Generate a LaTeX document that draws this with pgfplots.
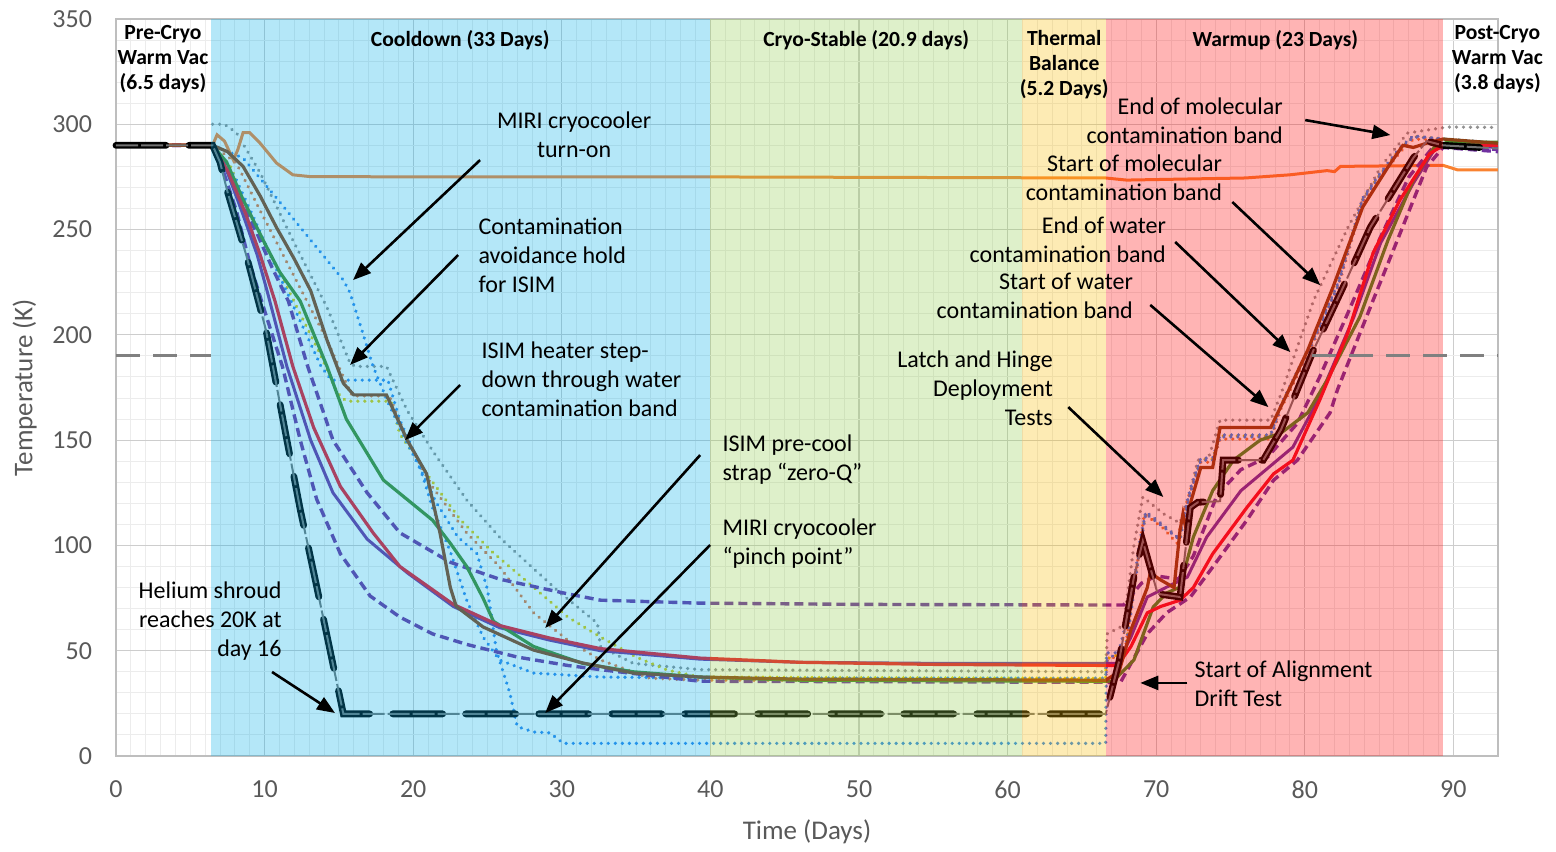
\documentclass[border=0pt]{standalone}
\usepackage{fontspec}
\setmainfont{Carlito}
\usepackage{pgfplots}
\pgfplotsset{compat=1.18}
\usetikzlibrary{arrows.meta}
\definecolor{corange}{RGB}{249,130,49}
\definecolor{cpurple}{RGB}{112,48,160}
\definecolor{cred}{RGB}{240,20,40}
\definecolor{cgreen}{RGB}{70,140,40}
\definecolor{cbrown}{RGB}{140,65,20}
\definecolor{cblue}{RGB}{50,135,235}
\definecolor{cgrayd}{RGB}{145,145,145}
\definecolor{corangedot}{RGB}{230,120,60}
\definecolor{cyellowdot}{RGB}{225,205,0}
\definecolor{bandcyan}{RGB}{5,175,232}
\definecolor{bandgreen}{RGB}{145,205,78}
\definecolor{bandyellow}{RGB}{248,188,5}
\definecolor{bandred}{RGB}{255,5,5}
\definecolor{gridmaj}{RGB}{205,205,205}
\definecolor{gridmin}{RGB}{236,236,236}
\definecolor{axisgray}{RGB}{190,190,190}
\definecolor{labgray}{RGB}{89,89,89}
\tikzset{
  dotl/.style={line width=1.8pt, dash pattern=on 0.01pt off 3.5pt, line cap=round},
  dashl/.style={line width=1.7pt, dash pattern=on 4.5pt off 2.5pt},
  ann/.style={font=\fontsize{12}{14.5}\selectfont, inner sep=0pt, text=black},
  ttl/.style={font=\bfseries\fontsize{10.8}{12.5}\selectfont, inner sep=0pt, align=center, text=black},
  arr/.style={line width=1.3pt, -{Triangle[length=9pt,width=7pt]}}
}
\begin{document}
\begin{tikzpicture}
\path[use as bounding box] (-58pt,-47.5pt) rectangle (720pt,378pt);
\begin{axis}[
  at={(0,0)}, anchor=south west, scale only axis,
  width=691pt, height=368.5pt,
  xmin=0, xmax=93, ymin=0, ymax=350,
  xtick={0,10,...,90}, ytick={0,50,...,350},
  minor x tick num=9, minor y tick num=4,
  grid=both,
  major grid style={draw=gridmaj, line width=0.6pt},
  minor grid style={draw=gridmin, line width=0.5pt},
  axis line style={draw=axisgray, line width=0.9pt},
  tick style={draw=none},
  /pgf/number format/assume math mode=true,
  ticklabel style={font=\fontsize{13}{15}\selectfont, text=labgray},
  xticklabel style={yshift=-9pt},
  yticklabel style={xshift=-8.5pt},
  xlabel={Time (Days)}, ylabel={Temperature (K)},
  label style={font=\fontsize{13.5}{16}\selectfont, text=labgray},
  x label style={at={(axis description cs:0.5,-0.103)}, anchor=center},
  y label style={at={(axis description cs:-0.066,0.5)}, anchor=center},
  clip=false,
]
% ---- dotted series ----
\addplot[cgrayd, dotl] coordinates {(6.5,300)(7.3,300)(8.1,296)(9.7,277)(11.9,245)(14.2,213)(15.75,186.6)(16.1,185)(18.2,185)(19.6,164)(21.3,145)(23.6,121.6)(25.8,104)(26.7,98)(29.9,77.4)(32.4,63)(32.6,52)(34.8,44)(39.3,41)(66.6,40)(66.7,58)(67.8,62)(68.5,100)(69.1,123)(70.5,115)(71.6,110.6)(72.3,126)(72.8,140.5)(73.5,141)(74.3,159.5)(77.7,159.5)(78.4,172)(80.6,216.5)(82.9,251)(85.1,279.7)(86.9,295.8)(89.6,298.7)(93,298.5)};
\addplot[cyellowdot, dotl] coordinates {(6.5,290)(7.7,280)(9.2,254.5)(11.5,222.7)(13.7,191.4)(14.9,172.4)(15.5,168.5)(18.5,168.5)(19.1,153)(20.9,134)(23.2,112)(25.4,96.4)(28.1,80.2)(30.4,66)(32.6,56.5)(35,47)(37.1,40.8)(39.3,37.5)(66.6,36.8)(66.65,46)(67.9,49.5)(68.3,69)(68.9,100)(69.3,115.5)(70.5,109)(71.6,103)(71.8,111)(72.3,126)(73,141)(73.8,141)(74.3,152)(77.7,152)(78.4,166.5)(80.6,198)(82.2,223.2)(83.9,264.5)(85.1,276.5)(86.4,288.2)(87.3,294.2)(89.3,293)(93,291)};
\addplot[corangedot, dotl] coordinates {(6.5,290)(8.1,281.6)(9.7,259)(11.9,229)(14.2,197.5)(15.3,180)(15.9,171)(18.4,171)(19.6,150)(21.3,127.7)(23.6,105.9)(25.8,90)(28.1,68)(30.4,55)(32.6,45.6)(35.9,37)(39.3,36)(66.6,35.8)(66.65,45)(67.9,49.5)(68.3,70)(68.9,100)(69.2,115)(70.5,108)(71.4,101)(71.7,112)(72.3,126)(73,139.5)(73.8,139.5)(74.3,150.5)(77.7,150.5)(78.4,165)(80.6,196.5)(82.2,221.7)(83.9,263)(85.1,275)(86.4,286.7)(87.3,293)(89.3,292.5)(93,290.5)};
\addplot[cblue, dotl] coordinates {(6.5,290)(8,275)(9.5,252)(11,228)(12.5,205)(13.8,185)(14.5,178.5)(18.3,178.5)(19.1,159.5)(20.3,140.5)(21.3,118)(22.5,97)(23.6,74)(24.7,56.5)(25.8,45.6)(28.1,39.4)(32.6,37.5)(40,37)(66.6,37)(66.65,45)(67.5,50)(68.3,72)(68.9,102)(69.3,116)(70.5,109.5)(71.5,103.5)(71.9,115)(72.3,127)(73,141.5)(73.8,141.5)(74.3,152.5)(77.7,152.5)(78.4,167)(80.6,198.5)(82.2,224)(83.9,265)(85.1,277)(86.4,289)(87.3,294.5)(89.3,293)(93,291)};
\addplot[cblue, dotl] coordinates {(6.5,290)(8.55,284)(10.8,265)(13.1,245)(15.3,226)(15.75,220)(16.6,201)(17.3,185)(18.3,168)(19.5,150)(20.5,136)(21.5,121)(23,104)(24.3,96)(25,79)(25.6,50)(26.5,30)(27,14)(28.1,11.4)(29.2,11)(30.1,6)(66.6,6)(66.65,49)(67.9,49)(68.3,68)(68.9,99)(69.3,115)(70.5,108.7)(71.6,102.6)(71.8,110)(72.3,125)(73,140.5)(73.8,140.5)(74.3,151.5)(77.7,151.5)(78.4,166)(80.6,197.5)(82.2,222.7)(83.9,264)(85.1,276)(86.4,287.7)(87.3,294)(89.3,293)(93,291)};
% ---- MIRI / orange ----
\addplot[corange, line width=1.5pt] coordinates {(0,290)(6.5,290)(6.8,295)(7.3,292)(7.9,283)(8.2,288)(8.55,296)(9,296)(9.7,291)(10.8,281.6)(11.9,276)(13,275.2)(20,275)(40,275)(66.6,274.5)(68,273.5)(72,274)(76,274.5)(79,276)(81.5,278)(82,277.5)(82.4,280)(89.3,280.5)(90.3,278.3)(93,278.3)};
% ---- purple dashed ----
\addplot[cpurple, dashl] coordinates {(0,290)(6.5,290)(7.5,278)(8.5,262)(9.5,248)(10.5,232)(11.6,216)(12.9,185)(14.6,150)(16.9,125)(19.1,106)(22.5,92)(25.8,84)(30.4,77)(32.6,74)(39.3,72.6)(50,72)(66.6,71.7)(67.8,71.7)(69,82)(70,85.5)(71.5,84)(72.5,95)(74.1,124)(75.7,136)(77.5,142)(79.5,158)(81,180)(83,212)(85,245)(87,275)(88.5,288)(89.3,290)(93,288)};
\addplot[cpurple, dashl] coordinates {(0,290)(6.5,290)(7.2,278)(8.1,259)(9,234)(10.2,207)(11.2,185)(12.4,150)(13.5,122)(15.1,96)(17.1,76)(19.1,66)(21.3,58)(23.6,53)(27,47)(30.4,43)(32.6,41)(39.3,35.5)(66.6,35)(67.6,35)(69.4,58)(70.7,68)(72.3,75.5)(73.8,89.7)(76.1,112)(77.9,131)(79.5,140.5)(81.7,163)(82.2,174)(84.6,216.5)(86.4,248)(88.2,279.7)(89.3,289)(93,287)};
% ---- purple solid ----
\addplot[cpurple, line width=1.5pt] coordinates {(0,290)(6.5,290)(7.5,277)(8.5,258)(9.5,238)(10.2,220)(11.5,185)(13.1,150)(14.6,125)(16.9,103)(19.6,87)(22.7,71)(25.8,61)(29.2,55)(32.6,50)(39.3,46)(46,44.5)(55,44)(66.6,44)(67.4,44)(68.3,56.5)(69.4,75.5)(70.7,80.2)(72.1,85)(73.4,104)(75.7,126)(77.9,139)(79.2,146.7)(81,170.5)(83.3,208.5)(85.1,243.6)(87.3,272)(88.7,287.7)(89.5,290)(93,289)};
% ---- green ----
\addplot[cgreen, line width=1.6pt] coordinates {(0,290)(6.5,290)(7.45,282)(8.5,265)(9.9,245)(11,230)(12.4,216)(14.2,185)(15.5,160)(18,131)(21.3,112)(22.5,101)(23.6,90)(24.7,75)(25.4,64)(28.1,52)(31.4,44)(34.8,40)(39.3,37.5)(46,36)(66.6,35.5)(67.1,35.5)(68.5,45.6)(69.8,70.8)(70.7,77.4)(71.6,80.2)(72.5,104)(73.8,126)(75.2,140.5)(77,150)(78.4,153.4)(80.2,163)(81.5,178.5)(83.7,208.5)(85.6,245)(87.3,273.5)(88.7,289)(89.6,291.5)(93,291.5)};
% ---- red ----
\addplot[cred, line width=1.6pt] coordinates {(0,290)(6.5,290)(7.5,278)(8.7,258)(9.7,238)(10.7,216)(11.9,185)(13.3,156)(15.1,128)(17.3,106)(19.1,90)(21.3,79)(22.7,72)(25.8,62)(29.2,56)(32.6,51)(39.3,46.5)(46,44.5)(55,43.5)(66.6,43)(67.4,43)(68.3,52)(69.4,68)(70.3,71)(71.6,74)(72.5,80)(73.8,96)(76.1,118)(77.9,134)(79.2,140.5)(81,169)(82.9,201)(84.6,239)(86.4,264)(88.4,286)(89.3,290)(93,290)};
% ---- brown (ISIM) ----
\addplot[cbrown, line width=1.6pt] coordinates {(0,290)(6.5,290)(7.5,287)(8.55,280)(9.7,266)(10.8,251)(12,236)(13.1,221)(14.2,197.5)(15.3,177)(16,171.5)(18.2,171.5)(19.6,150)(20.9,134)(21.8,106)(22.5,80)(22.9,71)(24.7,61.3)(28.1,50.3)(31.4,44.2)(34.8,39.4)(39.3,37.5)(46,36.5)(66.6,36)(67.5,40)(68.3,60)(69.4,80)(69.6,87)(70.3,83.6)(71.2,80)(71.6,107)(71.8,115)(72,108)(72.3,120)(73,137)(73.8,137)(74.3,156)(77.7,156)(78.6,169)(80.2,192.8)(81.9,222.7)(83.9,260.7)(85.6,279.7)(86.6,290)(87.3,289)(88.2,291)(89.3,293)(93,291)};
% ---- helium shroud ----
\addplot[black, line width=3.4pt, dash pattern=on 25pt off 11.5pt, line cap=round] coordinates {(0,290)(6.5,290)(7,282)(7.5,268)(8.8,237)(10.1,202)(11.5,150)(12.4,117)(13.4,84)(15.3,20)(66.6,20)(67.5,45)(68.5,85)(69.1,102)(70.1,77)(71.6,75.5)(72.3,118)(72.8,120.5)(74.3,121)(74.5,140.5)(77.2,140.5)(78.4,155)(80.6,193)(82.6,223)(84.4,251)(87.3,284)(88.2,292)(89.3,290)(93,288.5)};
\addplot[black!55, line width=1.0pt, dash pattern=on 11pt off 1.5pt] coordinates {(0,290)(6.5,290)(7,282)(7.5,268)(8.8,237)(10.1,202)(11.5,150)(12.4,117)(13.4,84)(15.3,20)(66.6,20)(67.5,45)(68.5,85)(69.1,102)(70.1,77)(71.6,75.5)(72.3,118)(72.8,120.5)(74.3,121)(74.5,140.5)(77.2,140.5)(78.4,155)(80.6,193)(82.6,223)(84.4,251)(87.3,284)(88.2,292)(89.3,290)(93,288.5)};
% ---- phase bands (translucent overlay) ----
\addplot[draw=none, fill=bandcyan, fill opacity=0.3] coordinates {(6.4,350)(40,350)} \closedcycle;
\addplot[draw=none, fill=bandgreen, fill opacity=0.3] coordinates {(40,350)(61,350)} \closedcycle;
\addplot[draw=none, fill=bandyellow, fill opacity=0.3] coordinates {(61,350)(66.6,350)} \closedcycle;
\addplot[draw=none, fill=bandred, fill opacity=0.3] coordinates {(66.6,350)(89.3,350)} \closedcycle;
% ---- 190 K reference line ----
\addplot[black!50, line width=1.5pt, dash pattern=on 12pt off 6.5pt] coordinates {(0,190)(6.4,190)};
\addplot[black!50, line width=1.5pt, dash pattern=on 12pt off 6.5pt] coordinates {(80.5,190)(93,190)};
% ---- phase titles ----
\node[ttl] at (axis cs:3.16,331) {Pre-Cryo\\Warm Vac\\(6.5 days)};
\node[ttl] at (axis cs:23.16,340) {Cooldown (33 Days)};
\node[ttl] at (axis cs:50.48,340) {Cryo-Stable (20.9 days)};
\node[ttl] at (axis cs:63.81,328.1) {Thermal\\Balance\\(5.2 Days)};
\node[ttl] at (axis cs:78.02,340) {Warmup (23 Days)};
\node[ttl] at (axis cs:92.96,331) {Post-Cryo\\Warm Vac\\(3.8 days)};
% ---- annotations ----
\node[ann, align=center, anchor=center] at (axis cs:30.83,294.9) {MIRI cryocooler\\turn-on};
\node[ann, align=left, anchor=west] at (axis cs:24.37,237.9) {Contamination\\avoidance hold\\for ISIM};
\node[ann, align=left, anchor=west] at (axis cs:24.57,179) {ISIM heater step-\\down through water\\contamination band};
\node[ann, align=left, anchor=west] at (axis cs:40.79,140.6) {ISIM pre-cool\\strap “zero-Q”};
\node[ann, align=left, anchor=west] at (axis cs:40.79,100.7) {MIRI cryocooler\\“pinch point”};
\node[ann, align=right, anchor=east] at (axis cs:11.17,64.1) {Helium shroud\\reaches 20K at\\day 16};
\node[ann, align=right, anchor=east] at (axis cs:63.07,174.7) {Latch and Hinge\\Deployment\\Tests};
\node[ann, align=left, anchor=west] at (axis cs:72.56,34.2) {Start of Alignment\\Drift Test};
\node[ann, align=right, anchor=east] at (axis cs:78.55,301.5) {End of molecular\\contamination band};
\node[ann, align=right, anchor=east] at (axis cs:74.45,274.5) {Start of molecular\\contamination band};
\node[ann, align=right, anchor=east] at (axis cs:70.68,245) {End of water\\contamination band};
\node[ann, align=right, anchor=east] at (axis cs:68.46,218.4) {Start of water\\contamination band};
% ---- arrows ----
\draw[arr] (axis cs:24.5,283) -- (axis cs:15.95,226);
\draw[arr] (axis cs:23.02,237.9) -- (axis cs:15.75,185.7);
\draw[arr] (axis cs:23.16,176.2) -- (axis cs:19.45,150);
\draw[arr] (axis cs:39.31,142.9) -- (axis cs:28.88,60.8);
\draw[arr] (axis cs:39.98,100.2) -- (axis cs:28.88,20.4);
\draw[arr] (axis cs:10.5,39.9) -- (axis cs:14.74,20.4);
\draw[arr] (axis cs:64.08,165.7) -- (axis cs:70.48,123);
\draw[arr] (axis cs:72.09,34.7) -- (axis cs:68.93,34.7);
\draw[arr] (axis cs:80.03,302) -- (axis cs:85.76,294.9);
\draw[arr] (axis cs:75.12,263.1) -- (axis cs:81.04,223.6);
\draw[arr] (axis cs:71.28,244.1) -- (axis cs:79.03,191.8);
\draw[arr] (axis cs:69.6,214.2) -- (axis cs:77.55,165.7);
\end{axis}
\end{tikzpicture}
\end{document}
